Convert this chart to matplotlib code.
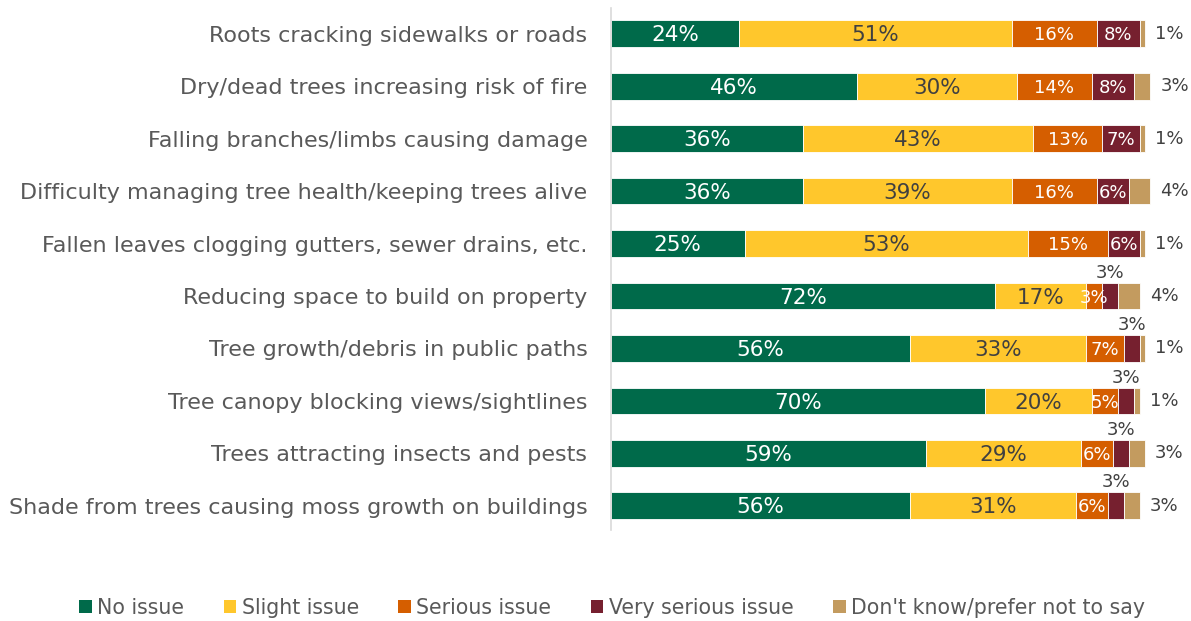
import matplotlib
matplotlib.use("Agg")
import matplotlib.pyplot as plt
from matplotlib.patches import Patch

categories = [
    "Roots cracking sidewalks or roads",
    "Dry/dead trees increasing risk of fire",
    "Falling branches/limbs causing damage",
    "Difficulty managing tree health/keeping trees alive",
    "Fallen leaves clogging gutters, sewer drains, etc.",
    "Reducing space to build on property",
    "Tree growth/debris in public paths",
    "Tree canopy blocking views/sightlines",
    "Trees attracting insects and pests",
    "Shade from trees causing moss growth on buildings",
]
series_names = ["No issue", "Slight issue", "Serious issue",
                "Very serious issue", "Don't know/prefer not to say"]
no_issue = [24, 46, 36, 36, 25, 72, 56, 70, 59, 56]
slight_issue = [51, 30, 43, 39, 53, 17, 33, 20, 29, 31]
serious_issue = [16, 14, 13, 16, 15, 3, 7, 5, 6, 6]
very_serious = [8, 8, 7, 6, 6, 3, 3, 3, 3, 3]
dont_know = [1, 3, 1, 4, 1, 4, 1, 1, 3, 3]

colors = ["#006A4A", "#FFC72C", "#D55E00", "#76202F", "#C39B5F"]
label_colors = ["white", "#404040", "white", "white", "#404040"]
label_sizes = [15.5, 15.5, 13, 13, 13]
dark_text = "#404040"
soft_text = "#595959"

W, H = 1191, 621
fig = plt.figure(figsize=(W / 100, H / 100), dpi=100)
ax = fig.add_axes([611 / W, 1 - 530 / H, (W - 611) / W, 522 / H])

series = [no_issue, slight_issue, serious_issue, very_serious, dont_know]
ypos = list(range(len(categories)))
left = [0] * len(categories)
bar_h = 0.51
for s, (vals, col) in enumerate(zip(series, colors)):
    ax.barh(ypos, vals, left=left, height=bar_h, color=col,
            edgecolor="white", linewidth=0.6, label=series_names[s])
    for i, (v, l) in enumerate(zip(vals, left)):
        cx = l + v / 2
        if s == 4:
            ax.text(l + v + 1.9, i, f"{v}%", ha="left", va="center",
                    fontsize=13, color=dark_text)
        elif s == 3 and v <= 3:
            ax.text(cx, i - bar_h / 2 - 0.02, f"{v}%", ha="center",
                    va="bottom", fontsize=13, color=dark_text)
        else:
            ax.text(cx, i + 0.03, f"{v}%", ha="center", va="center",
                    fontsize=label_sizes[s], color=label_colors[s])
    left = [a + b for a, b in zip(left, vals)]

ax.set_xlim(0, (W - 611) / 5.34)
ax.set_ylim(9.46, -0.49)
ax.set_yticks(ypos)
ax.set_yticklabels(categories, fontsize=16, color=soft_text)
ax.tick_params(axis="y", length=0, pad=17)
ax.set_xticks([])
for side in ["top", "right", "bottom"]:
    ax.spines[side].set_visible(False)
ax.spines["left"].set_color("#D9D9D9")
ax.spines["left"].set_linewidth(1.2)

handles = [Patch(facecolor=c, edgecolor="none") for c in colors]
fig.legend(handles, series_names, loc="center", bbox_to_anchor=(612 / W, 1 - 608 / H),
           ncol=5, frameon=False, fontsize=14.8, handlelength=0.62, handleheight=0.62,
           handletextpad=0.25, columnspacing=1.92, labelcolor=soft_text)

fig.savefig("out.png", dpi=100)
